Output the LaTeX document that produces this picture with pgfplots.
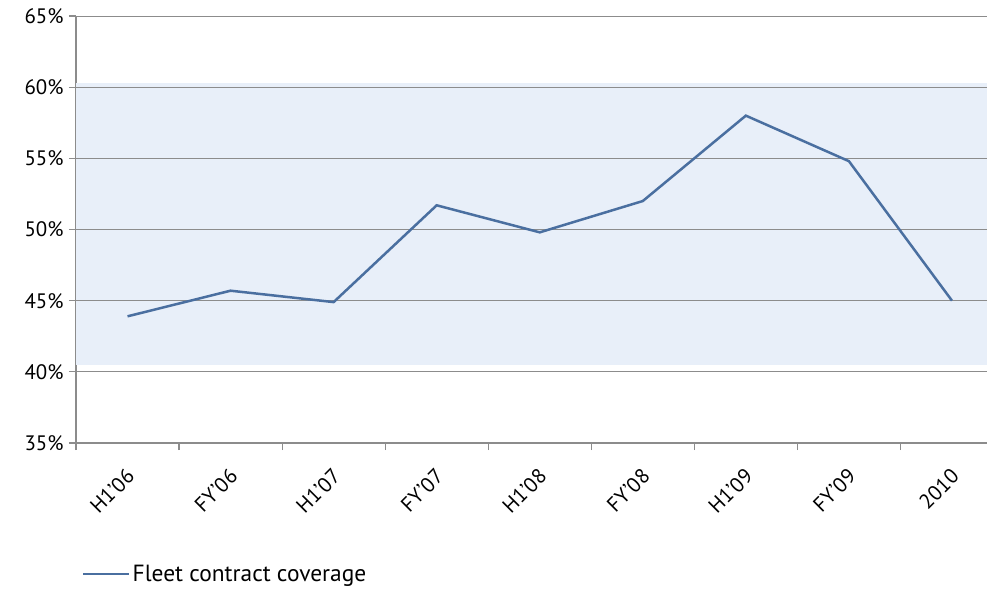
\documentclass[border=0pt]{standalone}
\usepackage{pgfplots}
\pgfplotsset{compat=1.18}
\usepackage{fontspec}
\setmainfont{PT Sans}
\definecolor{lineblue}{RGB}{74,111,160}
\definecolor{gridgray}{RGB}{140,140,140}
\definecolor{band}{RGB}{232,239,249}
\begin{document}
\begin{tikzpicture}
\useasboundingbox (-76bp,-146bp) rectangle (911bp,443bp);
\begin{axis}[
  at={(0,0)}, anchor=south west,
  scale only axis, width=911bp, height=427bp,
  xmin=-0.5, xmax=8.34, ymin=35, ymax=65,
  axis x line*=bottom, axis y line*=left,
  axis line style={gridgray, line width=1.2bp},
  ytick={35,40,...,65},
  yticklabel={\pgfmathprintnumber{\tick}\%},
  /pgf/number format/assume math mode=true,
  ymajorgrids, major grid style={gridgray, line width=0.9bp},
  xtick={-0.5,0.5,...,7.5},
  xticklabels={},
  extra x ticks={0,...,8},
  extra x tick labels={H1'06,FY'06,H1'07,FY'07,H1'08,FY'08,H1'09,FY'09,2010},
  extra x tick style={major tick length=0bp},
  every tick/.style={gridgray, line width=1.2bp},
  tick align=outside, major tick length=7bp,
  ticklabel style={font=\fontsize{21}{24}\selectfont},
  xticklabel style={rotate=45, anchor=east, xshift=-15.3bp, yshift=-23.2bp},
  yticklabel style={xshift=-2bp},
  legend style={at={(6bp,-131bp)}, anchor=west, draw=none, fill=none,
    font=\fontsize{23.5}{26}\selectfont, inner sep=0pt},
  legend image code/.code={\draw[#1] (0bp,0bp) -- (46bp,0bp);},
  clip=false,
]
\fill[band] (axis cs:-0.5,40.5) rectangle (axis cs:8.34,60.3);
\foreach \y in {40,45,...,60} {\edef\tmp{\noexpand\draw[gridgray, line width=0.9bp] (axis cs:-0.5,\y) -- (axis cs:8.34,\y);}\tmp}
\addplot[lineblue, line width=2.5bp] coordinates {
(0,43.9) (1,45.7) (2,44.9) (3,51.7) (4,49.8) (5,52.0) (6,58.0) (7,54.8) (8,45.0)
};
\addlegendentry{Fleet contract coverage}
\end{axis}
\end{tikzpicture}
\end{document}
